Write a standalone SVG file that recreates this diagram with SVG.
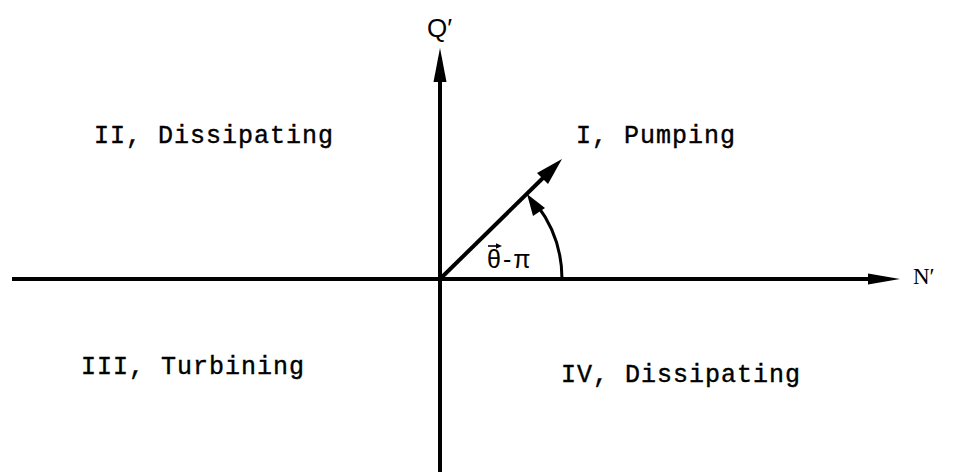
<svg xmlns="http://www.w3.org/2000/svg" width="954" height="473" viewBox="0 0 954 473">
  <defs>
    <style>
      .axis { stroke: #000; stroke-width: 4; fill: none; }
      .thin { stroke: #000; stroke-width: 3; fill: none; }
      .tw { font-family: "Liberation Mono", "DejaVu Sans Mono", monospace; font-size: 25px; letter-spacing: 1px; fill: #000; stroke: #000; stroke-width: 0.4; }
      .sans { font-family: "Liberation Sans", Arial, sans-serif; fill: #000; }
      .serif { font-family: "Liberation Serif", "Times New Roman", serif; fill: #000; }
    </style>
  </defs>
  <rect width="954" height="473" fill="#fff"/>
  <g id="connectors">
    <!-- horizontal N' axis -->
    <line class="axis" x1="12" y1="279" x2="872" y2="279"/>
    <polygon points="900,279 868,273.5 868,284.5" fill="#000"/>
    <!-- vertical Q' axis -->
    <line class="axis" x1="440" y1="472" x2="440" y2="78"/>
    <polygon points="440,48 433.5,82 446.5,82" fill="#000"/>
    <!-- diagonal vector -->
    <line class="axis" x1="440" y1="279" x2="545" y2="176"/>
    <polygon points="562,159 537,173 548,184" fill="#000"/>
    <!-- angle arc -->
    <path class="thin" d="M562,279 A122,122 0 0 0 537,205"/>
    <polygon points="527,194 545,208 533,216" fill="#000"/>
  </g>
  <g id="label-Q">
    <text class="sans" x="427" y="37" font-size="26">Q′</text>
  </g>
  <g id="label-N">
    <text class="serif" x="913" y="284" font-size="23">N′</text>
  </g>
  <g id="angle-label">
    <text class="sans" x="487" y="268" font-size="25" letter-spacing="2">θ-π</text>
    <line x1="488" y1="246" x2="498" y2="246" stroke="#000" stroke-width="1.6"/>
    <polygon points="502,246 496,243.3 496,248.7" fill="#000"/>
  </g>
  <g id="quadrant-I">
    <text class="tw" x="576" y="143">I, Pumping</text>
  </g>
  <g id="quadrant-II">
    <text class="tw" x="94" y="143">II, Dissipating</text>
  </g>
  <g id="quadrant-III">
    <text class="tw" x="81" y="374">III, Turbining</text>
  </g>
  <g id="quadrant-IV">
    <text class="tw" x="561" y="382">IV, Dissipating</text>
  </g>
</svg>
